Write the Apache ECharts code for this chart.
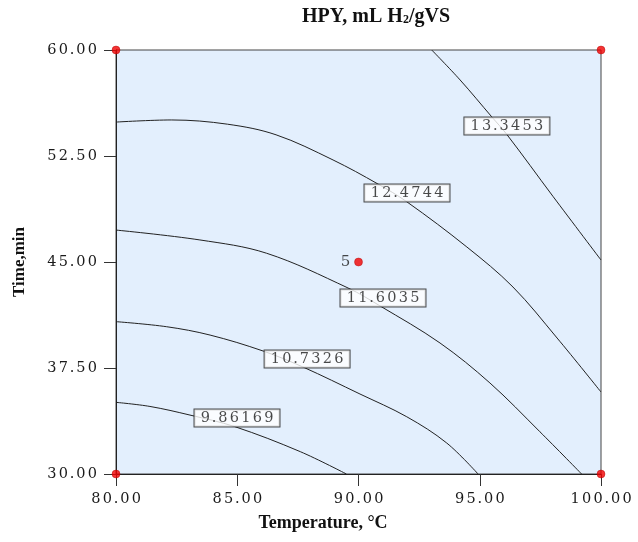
<!DOCTYPE html>
<html>

<head>
	<meta charset="UTF-8">
	<title></title>
	<style>
		body { margin: 0; }
		#chart {
			width: 638px;
			height: 542px;
		}
	</style>
	<script src="https://cdn.jsdelivr.net/npm/echarts@6/dist/echarts.min.js"></script>
</head>

<body>
	<div id="chart"></div>
	<script>
		// contour levels and the label anchor of each one
		var levels = ['9.86169', '10.7326', '11.6035', '12.4744', '13.3453'];
		var labelPos = [[84.99, 33.96], [87.88, 38.14], [91.01, 42.45], [92.0, 49.88], [96.12, 54.62]];

		// contour paths  [temperature, time]
		var c1 = [[80, 35.07], [81.4, 34.78], [83.05, 34.17], [84.9, 33.35], [87.6, 31.58], [89.5, 30]];
		var c2 = [[80, 40.78], [82.09, 40.42], [83.88, 39.83], [86.07, 38.7], [87.71, 37.57], [90.06, 35.66], [91.99, 34.05], [93.64, 32.19], [94.93, 30]];
		var c3 = [[80, 47.26], [83.46, 46.56], [86.21, 45.62], [89.57, 43.16], [90.89, 41.89], [93.36, 39.27], [95.42, 36.44], [97.48, 32.99], [99.2, 30]];
		var c4 = [[80, 54.9], [82.3, 55.05], [84.6, 54.75], [86.6, 54.0], [88.95, 52.22], [90.8, 50.52], [92.0, 49.25], [94.47, 46.06], [96.37, 43.23], [98.19, 39.62], [100, 35.8]];
		var c5 = [[93.02, 60], [94.19, 57.88], [95.49, 55.28], [96.11, 54.04], [98.03, 49.62], [100, 45.14]];
		var contours = [c1, c2, c3, c4, c5];

		// design points, the centre one carries the run count
		var designPts = [[80, 30], [80, 60], [100, 30], [100, 60]];
		var centrePt = [90, 45];
		var centreCount = '5';

		var numFont = 'DejaVu Serif';
		var richNum = {
			d: { width: 11.5, align: 'center', fontFamily: numFont, fontSize: 14.5, color: '#1a1a1a' },
			p: { width: 6, align: 'center', fontFamily: numFont, fontSize: 14.5, color: '#1a1a1a' }
		};
		// wide spaced digits like the original software draws them
		function spaced(s) {
			return s.split('').map(function (c) {
				return c === '.' ? '{p|.}' : '{d|' + c + '}';
			}).join('');
		}

		var series = [];
		contours.forEach(function (c) {
			series.push({
				type: 'line',
				data: c,
				smooth: 0.35,
				showSymbol: false,
				silent: true,
				lineStyle: { color: '#222', width: 1 },
				z: 2
			});
		});
		series.push({
			type: 'scatter',
			symbolSize: 0,
			silent: true,
			data: labelPos.map(function (p, i) {
				return { value: p, name: levels[i] };
			}),
			label: {
				show: true,
				position: 'inside',
				formatter: function (p) { return spaced(p.name); },
				rich: richNum,
				backgroundColor: '#fff',
				borderColor: '#222',
				borderWidth: 1,
				padding: [1, 5, 0, 5],
				lineHeight: 16
			},
			z: 5
		});
		series.push({
			type: 'scatter',
			data: designPts,
			symbolSize: 8,
			clip: false,
			itemStyle: { color: '#f00000', borderColor: '#b00000', borderWidth: 0.5 },
			z: 6
		});
		series.push({
			type: 'scatter',
			data: [centrePt],
			symbolSize: 8,
			itemStyle: { color: '#f00000', borderColor: '#b00000', borderWidth: 0.5 },
			label: {
				show: true,
				position: 'left',
				distance: 4,
				formatter: centreCount,
				fontFamily: numFont,
				fontSize: 15,
				color: '#1a1a1a'
			},
			z: 6
		});

		var myChart = echarts.init(document.getElementById('chart'));
		myChart.setOption({
			animation: false,
			title: [
				{
					text: 'HPY, mL H{sub|2}/gVS',
					left: 376,
					top: 7,
					padding: 0,
					textAlign: 'center',
					textStyle: {
						fontFamily: 'Liberation Serif',
						fontWeight: 'bold',
						fontSize: 20,
						color: '#111',
						rich: {
							sub: { fontFamily: 'Liberation Serif', fontWeight: 'bold', fontSize: 12, color: '#111', verticalAlign: 'bottom', padding: [0, 0, 1, 0] }
						}
					}
				},
				{
					text: 'Temperature, °C',
					left: 323,
					top: 514,
					padding: 0,
					textAlign: 'center',
					textStyle: {
						fontFamily: 'Liberation Serif',
						fontWeight: 'bold',
						fontSize: 18,
						color: '#111'
					}
				}
			],
			grid: {
				left: 116,
				right: 37,
				top: 50,
				bottom: 68,
				show: true,
				backgroundColor: '#e3effd',
				borderColor: '#444',
				borderWidth: 1
			},
			xAxis: {
				type: 'value',
				min: 80,
				max: 100,
				interval: 5,
				axisLine: { lineStyle: { color: '#222' } },
				axisTick: { length: 12, lineStyle: { color: '#333' } },
				axisLabel: {
					margin: 18,
					formatter: function (v) { return spaced(v.toFixed(2)); },
					rich: richNum
				},
				splitLine: { show: false }
			},
			yAxis: {
				type: 'value',
				min: 30,
				max: 60,
				interval: 7.5,
				name: 'Time,min',
				nameLocation: 'middle',
				nameRotate: 90,
				nameGap: 88,
				nameTextStyle: {
					fontFamily: 'Liberation Serif',
					fontWeight: 'bold',
					fontSize: 17,
					color: '#111'
				},
				axisLine: { show: true, lineStyle: { color: '#222' } },
				axisTick: { show: true, length: 12, lineStyle: { color: '#333' } },
				axisLabel: {
					margin: 18,
					formatter: function (v) { return spaced(v.toFixed(2)); },
					rich: richNum
				},
				splitLine: { show: false }
			},
			series: series
		});
	</script>
</body>

</html>
